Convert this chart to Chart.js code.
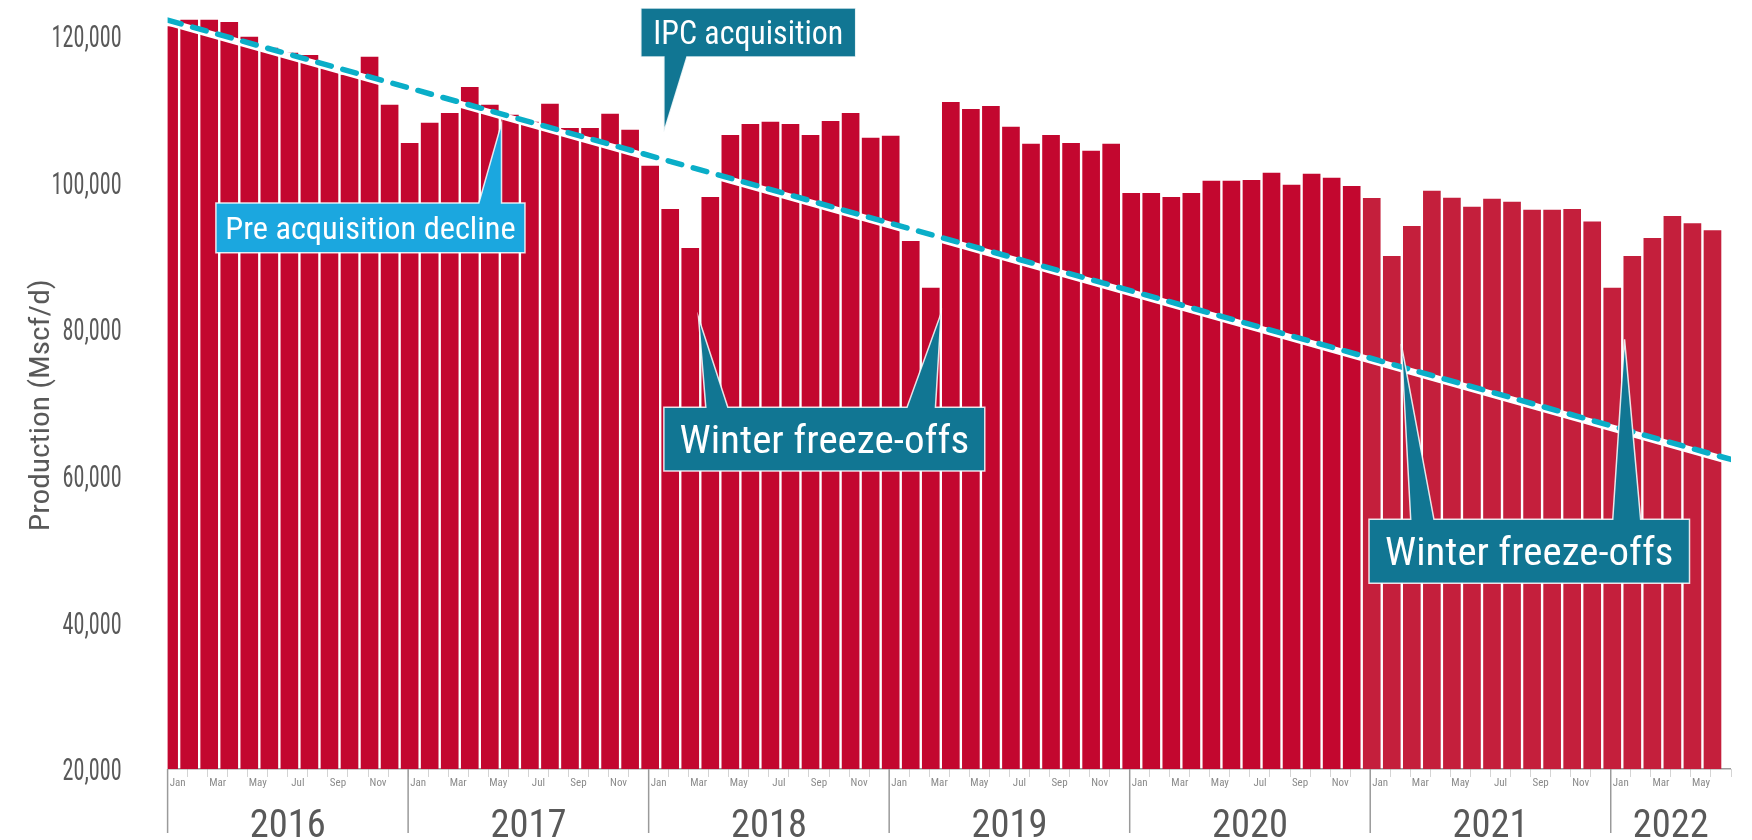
<!DOCTYPE html>
<html><head><meta charset="utf-8">
<script src="https://cdn.jsdelivr.net/npm/chart.js@4.4.1/dist/chart.umd.min.js"></script>
<style>html,body{margin:0;padding:0;background:#fff;}#wrap{width:1752px;height:840px;position:relative;}</style>
</head><body><div id="wrap"><canvas id="c"></canvas></div>
<script>
const monthNames = ['Jan','Feb','Mar','Apr','May','Jun','Jul','Aug','Sep','Oct','Nov','Dec'];
const years = [2016, 2017, 2018, 2019, 2020, 2021, 2022];
const monthsInYear = [12, 12, 12, 12, 12, 12, 6];
const production = [
  121200, 122100, 122100, 121800, 119800, 118300, 117600, 117300, 115500, 114600, 117050, 110500,
  105300, 108050, 109400, 112950, 110500, 109150, 108200, 110650, 107350, 107350, 109300, 107100,
  102200, 96300, 91000, 97950, 106400, 107900, 108200, 107900, 106400, 108300, 109400, 106000,
  106300, 91950, 85550, 110900, 109950, 110350, 107500, 105200, 106400, 105300, 104250, 105200,
  98500, 98500, 97950, 98500, 100150, 100150, 100250, 101250, 99600, 101100, 100550, 99450,
  97800, 89900, 94000, 98800, 97850, 96600, 97700, 97300, 96200, 96200, 96300, 94600,
  85550, 89900, 92350, 95350, 94350, 93400
];
const yTickValues = [20000, 40000, 60000, 80000, 100000, 120000];
const trendIndex = [-0.5, 77.5];
const trendValue = [122100, 62200];
const yTitle = 'Production (Mscf/d)';

const categories = [];
const catYear = [];
years.forEach((y, yi) => { for (let m = 0; m < monthsInYear[yi]; m++) { categories.push(monthNames[m] + ' ' + y); catYear.push(y); } });

// callouts in data units (x: category index, y: value)
const callouts = [
  { text: 'IPC acquisition', box: [23.11, 123750, 33.83, 117070], fill: '#117693', size: 33, tw: 0.884,
    pointers: [{ side: 'bottom', base: [24.26, 25.41], apex: [24.26, 106840] }] },
  { text: 'Pre acquisition decline', box: [1.91, 97165, 17.33, 90390], fill: '#1BA7DF', size: 32, tw: 0.939,
    pointers: [{ side: 'top', base: [15.03, 16.16], apex: [16.16, 108030] }] },
  { text: 'Winter freeze-offs', box: [24.26, 69310, 40.27, 60630], fill: '#117693', size: 39, tw: 0.903,
    pointers: [{ side: 'top', base: [26.35, 27.45], apex: [25.99, 81530] }, { side: 'top', base: [36.39, 37.81], apex: [38.09, 82130] }] },
  { text: 'Winter freeze-offs', box: [59.44, 54040, 75.43, 45320], fill: '#117693', size: 39, tw: 0.90,
    pointers: [{ side: 'top', base: [61.52, 62.68], apex: [61.05, 77940] }, { side: 'top', base: [71.6, 72.99], apex: [72.19, 78580] }] }
];

const FONT = "'Roboto Condensed', Roboto, 'Liberation Sans', sans-serif";
function drawTxt(ctx, str, x, y, size, color, o) {
  o = o || {};
  ctx.save();
  ctx.font = (o.weight || 400) + ' ' + size + 'px ' + FONT;
  const w = ctx.measureText(str).width;
  const sx = o.width ? o.width / w : (o.sx || 1);
  ctx.translate(x, y);
  if (o.rotate) ctx.rotate(o.rotate);
  ctx.scale(sx, 1);
  ctx.textAlign = o.align || 'center';
  ctx.textBaseline = 'alphabetic';
  ctx.fillStyle = color;
  ctx.fillText(str, 0, size * 0.355);
  ctx.restore();
}

const decorPlugin = {
  id: 'decor',
  beforeDatasetDraw(chart, args) {
    if (args.index === 1) { chart.ctx.save(); chart.ctx.translate(0, 2); }
  },
  afterDatasetDraw(chart, args) {
    if (args.index === 1) chart.ctx.restore();
  },
  afterDraw(chart) {
    const ctx = chart.ctx, ca = chart.chartArea;
    const ys = chart.scales.y, xl = chart.scales.xl;
    ctx.save();
    ctx.font = '400 32px ' + FONT;
    const sxY = 70 / ctx.measureText('120,000').width;
    ctx.restore();
    yTickValues.forEach(v => {
      drawTxt(ctx, v.toLocaleString('en-US'), ca.left - 46, ys.getPixelForValue(v), 32, '#595959', { align: 'right', sx: sxY });
    });
    drawTxt(ctx, yTitle, ca.left - 129, (ca.top + ca.bottom) / 2 + 14, 28, '#595959', { rotate: -Math.PI / 2, width: 252 });
    let idx = 0;
    ctx.save();
    ctx.strokeStyle = '#9a9a9a'; ctx.lineWidth = 1.5;
    years.forEach((y, yi) => {
      const x0 = xl.getPixelForValue(idx - 0.5);
      const x1 = xl.getPixelForValue(idx + monthsInYear[yi] - 0.5);
      ctx.beginPath(); ctx.moveTo(x0, ca.bottom); ctx.lineTo(x0, ca.bottom + 64); ctx.stroke();
      drawTxt(ctx, String(y), (x0 + x1) / 2, ca.bottom + 55, 38, '#595959', { width: 76 });
      idx += monthsInYear[yi];
    });
    ctx.restore();
    callouts.forEach(c => {
      const X = v => xl.getPixelForValue(v), Y = v => ys.getPixelForValue(v);
      const x0 = X(c.box[0]), y0 = Y(c.box[1]), x1 = X(c.box[2]), y1 = Y(c.box[3]);
      ctx.save();
      ctx.beginPath();
      ctx.moveTo(x0, y0);
      c.pointers.filter(p => p.side === 'top').sort((a, b) => a.base[0] - b.base[0]).forEach(p => {
        ctx.lineTo(X(p.base[0]), y0); ctx.lineTo(X(p.apex[0]), Y(p.apex[1])); ctx.lineTo(X(p.base[1]), y0);
      });
      ctx.lineTo(x1, y0); ctx.lineTo(x1, y1);
      c.pointers.filter(p => p.side === 'bottom').sort((a, b) => b.base[0] - a.base[0]).forEach(p => {
        ctx.lineTo(X(p.base[1]), y1); ctx.lineTo(X(p.apex[0]), Y(p.apex[1])); ctx.lineTo(X(p.base[0]), y1);
      });
      ctx.lineTo(x0, y1);
      ctx.closePath();
      ctx.fillStyle = c.fill; ctx.fill();
      ctx.strokeStyle = 'rgba(255,255,255,0.85)'; ctx.lineWidth = 1.5; ctx.stroke();
      ctx.restore();
      drawTxt(ctx, c.text, (x0 + x1) / 2, (y0 + y1) / 2, c.size, '#ffffff', { width: (x1 - x0) * c.tw });
    });
  }
};

new Chart(document.getElementById('c'), {
  type: 'bar',
  data: {
    labels: categories,
    datasets: [
      { type: 'bar', data: production, order: 3,
        backgroundColor: ctx => catYear[ctx.dataIndex] >= 2021 ? '#C41F3C' : '#C3072F',
        barThickness: 17 },
      { type: 'line', xAxisID: 'xl', order: 2, data: trendIndex.map((x, i) => ({ x, y: trendValue[i] })),
        borderColor: '#ffffff', borderWidth: 7, pointRadius: 0, fill: false, tension: 0 },
      { type: 'line', xAxisID: 'xl', order: 1, data: trendIndex.map((x, i) => ({ x, y: trendValue[i] })),
        borderColor: '#0AAEC8', borderWidth: 5.5, borderDash: [14, 12], borderCapStyle: 'round',
        pointRadius: 0, fill: false, tension: 0 }
    ]
  },
  options: {
    responsive: true, maintainAspectRatio: false, animation: false,
    layout: { padding: { top: 13.5, right: 21, left: 0, bottom: 0 } },
    plugins: { legend: { display: false }, tooltip: { enabled: false } },
    scales: {
      x: {
        type: 'category', offset: true,
        grid: { display: true, drawOnChartArea: false, offset: true, tickLength: 8, color: '#d4d4d4', lineWidth: 1 },
        border: { display: false },
        ticks: { autoSkip: false, maxRotation: 0, minRotation: 0, padding: 0, color: '#8a8a8a',
          font: { family: FONT, size: 11 },
          callback: (v, i) => (i % 2 === 0 ? monthNames[i % 12] : '') },
        afterFit: s => { s.height = 71; }
      },
      xl: { type: 'linear', display: false, offset: false, grid: { offset: false }, min: -0.5, max: 77.5 },
      y: {
        min: 20000, max: 123000,
        afterBuildTicks: s => { s.ticks = s.ticks.filter(t => yTickValues.includes(t.value)); },
        ticks: { display: false, stepSize: 20000 },
        grid: { color: '#9a9a9a', lineWidth: 1.5, drawTicks: false },
        border: { display: false },
        afterFit: s => { s.width = 167.6; }
      }
    }
  },
  plugins: [decorPlugin]
});
</script></body></html>
